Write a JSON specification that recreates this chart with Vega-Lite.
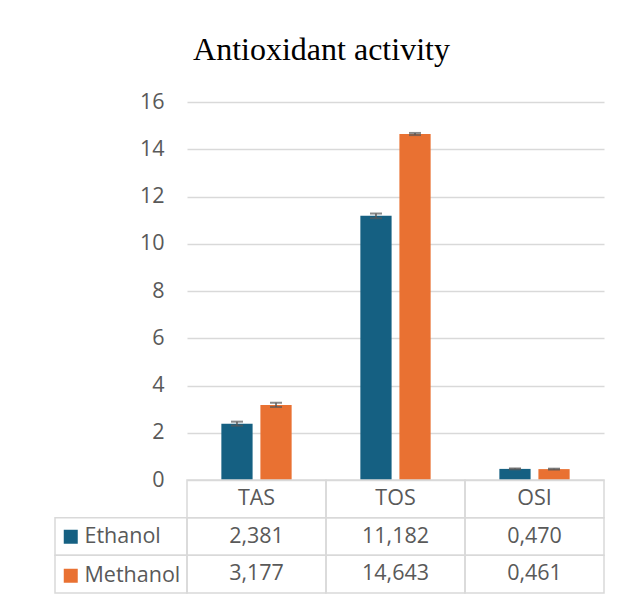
{
  "$schema": "https://vega.github.io/schema/vega-lite/v6.json",
  "padding": {"left": 54, "top": 34, "right": 5, "bottom": 5},
  "title": {"text": "Antioxidant activity", "font": "Liberation Serif", "fontSize": 32, "fontWeight": "normal", "color": "#000000", "anchor": "middle", "offset": 24, "dx": -8},
  "datasets": {
    "d": [
      {"cat": "TAS", "solvent": "Ethanol", "value": 2.381, "lo": 2.30, "hi": 2.47},
      {"cat": "TAS", "solvent": "Methanol", "value": 3.177, "lo": 3.09, "hi": 3.27},
      {"cat": "TOS", "solvent": "Ethanol", "value": 11.182, "lo": 11.08, "hi": 11.28},
      {"cat": "TOS", "solvent": "Methanol", "value": 14.643, "lo": 14.60, "hi": 14.69},
      {"cat": "OSI", "solvent": "Ethanol", "value": 0.470, "lo": 0.45, "hi": 0.49},
      {"cat": "OSI", "solvent": "Methanol", "value": 0.461, "lo": 0.44, "hi": 0.48}
    ]
  },
  "columns": 2,
  "spacing": 0,
  "bounds": "flush",
  "concat": [
    {
      "width": 132,
      "height": 378,
      "data": {"values": [{}]},
      "mark": {"type": "text"},
      "encoding": {"text": {"value": ""}}
    },
    {
      "width": 417,
      "height": 378,
      "data": {"name": "d"},
      "encoding": {
        "x": {"field": "cat", "type": "nominal", "scale": {"domain": ["TAS", "TOS", "OSI"], "paddingInner": 0, "paddingOuter": 0}, "axis": null},
        "xOffset": {"field": "solvent", "type": "nominal", "scale": {"domain": ["Ethanol", "Methanol"], "paddingInner": 0.2, "paddingOuter": 0.88}}
      },
      "layer": [
        {
          "mark": {"type": "bar"},
          "encoding": {
            "y": {"field": "value", "type": "quantitative", "scale": {"domain": [0, 16], "nice": false},
              "axis": {"values": [0, 2, 4, 6, 8, 10, 12, 14, 16], "title": null, "domain": false, "ticks": false, "labelPadding": 23, "labelFontSize": 21.5, "labelColor": "#595959", "labelFont": "Open Sans", "gridColor": "#D9D9D9", "gridWidth": 1.5}},
            "color": {"field": "solvent", "type": "nominal", "scale": {"domain": ["Ethanol", "Methanol"], "range": ["#156082", "#E97132"]},
              "legend": {"orient": "none", "legendX": -127, "legendY": 424, "title": null, "symbolType": "square", "symbolSize": 196, "symbolStrokeWidth": 0, "symbolOpacity": 1, "labelFontSize": 21.5, "labelColor": "#595959", "labelFont": "Open Sans", "labelOffset": 3, "rowPadding": 16, "padding": 0, "direction": "vertical"}}
          }
        },
        {
          "mark": {"type": "rule", "color": "#595959", "strokeWidth": 1.5},
          "encoding": {"y": {"field": "lo", "type": "quantitative"}, "y2": {"field": "hi"}}
        },
        {
          "mark": {"type": "tick", "orient": "horizontal", "color": "#595959", "size": 12, "thickness": 2},
          "encoding": {"y": {"field": "lo", "type": "quantitative"}}
        },
        {
          "mark": {"type": "tick", "orient": "horizontal", "color": "#595959", "size": 12, "thickness": 2},
          "encoding": {"y": {"field": "hi", "type": "quantitative"}}
        }
      ]
    },
    {
      "width": 132,
      "height": 113,
      "data": {"name": "d"},
      "transform": [{"filter": "datum.cat === 'TAS'"}],
      "mark": {"type": "rect", "fill": "transparent", "stroke": "#D9D9D9", "strokeWidth": 1.5},
      "encoding": {
        "y": {"field": "solvent", "type": "nominal", "scale": {"domain": ["header", "Ethanol", "Methanol"], "paddingInner": 0, "paddingOuter": 0}, "axis": null}
      }
    },
    {
      "width": 417,
      "height": 113,
      "data": {"name": "d"},
      "encoding": {
        "x": {"field": "cat", "type": "nominal", "scale": {"domain": ["TAS", "TOS", "OSI"], "paddingInner": 0, "paddingOuter": 0}, "axis": null}
      },
      "layer": [
        {
          "mark": {"type": "rect", "fill": "transparent", "stroke": "#D9D9D9", "strokeWidth": 1.5},
          "encoding": {"y": {"field": "solvent", "type": "nominal", "scale": {"domain": ["header", "Ethanol", "Methanol"], "paddingInner": 0, "paddingOuter": 0}, "axis": null}}
        },
        {
          "transform": [{"filter": "datum.solvent === 'Ethanol'"}],
          "mark": {"type": "rect", "fill": "transparent", "stroke": "#D9D9D9", "strokeWidth": 1.5},
          "encoding": {"y": {"datum": "header", "type": "nominal"}}
        },
        {
          "mark": {"type": "text", "fontSize": 21.5, "color": "#595959", "font": "Open Sans"},
          "encoding": {"y": {"field": "solvent", "type": "nominal"}, "text": {"field": "value", "type": "quantitative", "format": ".3f"}}
        },
        {
          "transform": [{"filter": "datum.solvent === 'Ethanol'"}],
          "mark": {"type": "text", "fontSize": 21.5, "color": "#595959", "font": "Open Sans"},
          "encoding": {"y": {"datum": "header", "type": "nominal"}, "text": {"field": "cat", "type": "nominal"}}
        }
      ]
    }
  ],
  "resolve": {"scale": {"x": "independent", "y": "independent", "color": "independent", "xOffset": "independent"}, "legend": {"color": "independent"}},
  "config": {
    "view": {"stroke": null},
    "font": "Open Sans",
    "locale": {"number": {"decimal": ",", "thousands": ".", "grouping": [3], "currency": ["", ""]}}
  }
}
